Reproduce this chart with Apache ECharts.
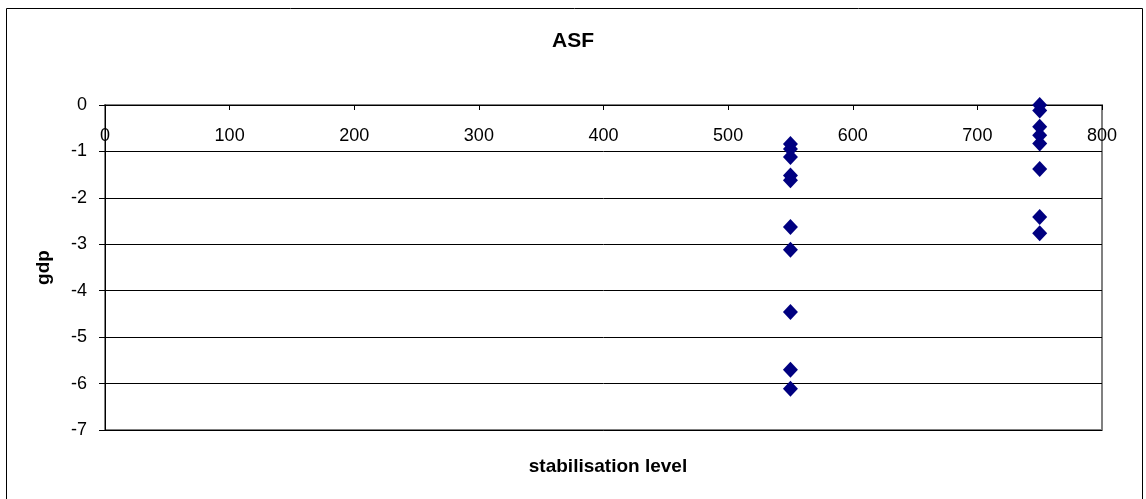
<!DOCTYPE html>
<html><head><meta charset="utf-8">
<script src="https://cdn.jsdelivr.net/npm/echarts@6/dist/echarts.min.js"></script>
<style>html,body{margin:0;padding:0;background:#fff}#c{width:1146px;height:499px}</style>
</head><body><div id="c"></div>
<script>
const titleText = 'ASF';
const xName = 'stabilisation level';
const yName = 'gdp';
const xLevels = [550, 750];
const gdpAt550 = [-0.84, -0.95, -1.12, -1.52, -1.62, -2.63, -3.12, -4.46, -5.70, -6.11];
const gdpAt750 = [0, -0.12, -0.47, -0.65, -0.83, -1.38, -2.41, -2.76];

const points = [];
gdpAt550.forEach(v => points.push([xLevels[0], v]));
gdpAt750.forEach(v => points.push([xLevels[1], v]));

const font = 'Liberation Sans, Arial, sans-serif';
const chart = echarts.init(document.getElementById('c'), null, {renderer: 'canvas'});
chart.setOption({
  animation: false,
  backgroundColor: '#fff',
  title: [
    {text: titleText, left: 'center', top: 26, textStyle: {fontFamily: font, fontSize: 21, fontWeight: 'bold', color: '#000'}},
    {text: xName, left: 603, top: 452, textAlign: 'center', textStyle: {fontFamily: font, fontSize: 19, fontWeight: 'bold', color: '#000'}}
  ],
  graphic: [{type: 'rect', shape: {x: 6.5, y: 8.5, width: 1136, height: 500}, style: {fill: 'none', stroke: '#000', lineWidth: 1}, silent: true, z: -1}],
  grid: {left: 105, right: 44, top: 105, bottom: 69, show: true, borderColor: '#808080', borderWidth: 2, backgroundColor: 'transparent'},
  xAxis: {
    type: 'value', min: 0, max: 800, interval: 100, position: 'top',
    axisLine: {show: true, lineStyle: {color: '#000', width: 1}},
    axisTick: {show: true, inside: true, length: 5, lineStyle: {color: '#000'}},
    axisLabel: {inside: true, fontFamily: font, fontSize: 18, color: '#000', margin: 22},
    splitLine: {show: false}
  },
  yAxis: {
    type: 'value', min: -7, max: 0, interval: 1,
    name: yName, nameLocation: 'middle', nameGap: 52, nameRotate: 90,
    nameTextStyle: {fontFamily: font, fontSize: 19, fontWeight: 'bold', color: '#000'},
    axisLine: {show: true, onZero: false, lineStyle: {color: '#000', width: 1}},
    axisTick: {show: true, length: 6, lineStyle: {color: '#000'}},
    axisLabel: {fontFamily: font, fontSize: 18, color: '#000', margin: 18},
    splitLine: {show: true, lineStyle: {color: '#000', width: 1}}
  },
  series: [{
    type: 'scatter', data: points, symbol: 'diamond', symbolSize: [15, 16],
    itemStyle: {color: '#000080', opacity: 1}
  }]
});
</script></body></html>
